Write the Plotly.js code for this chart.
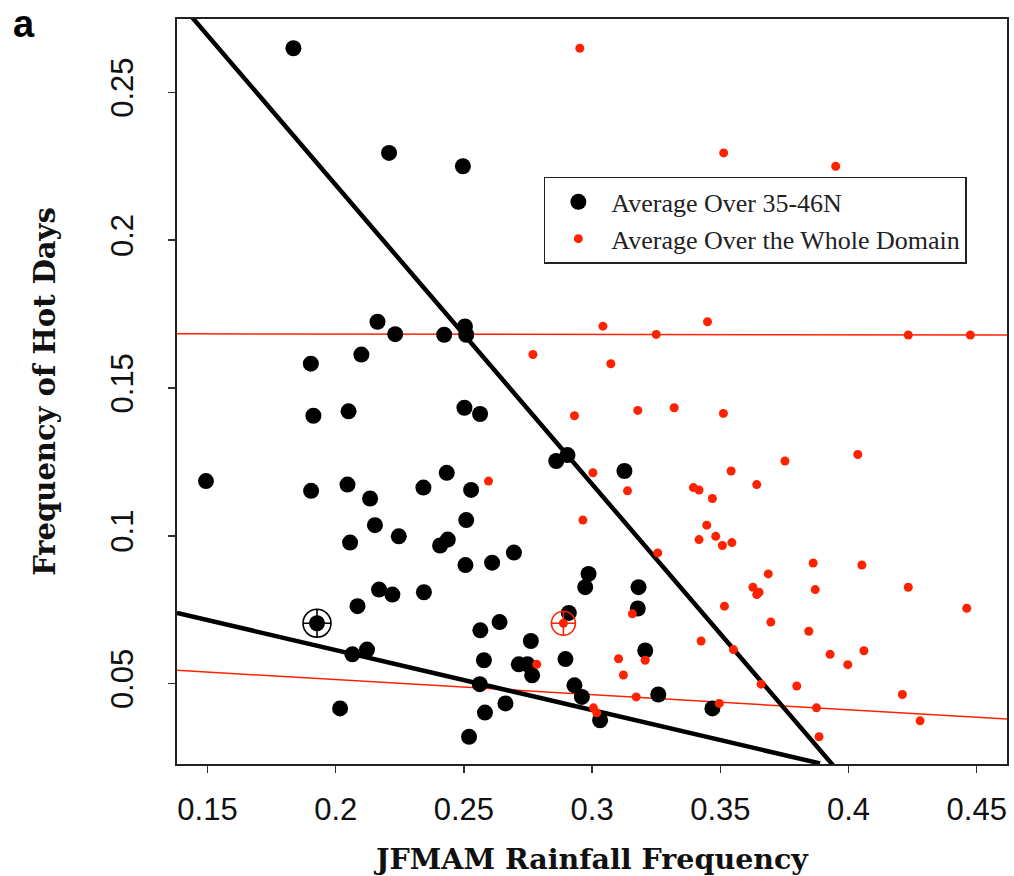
<!DOCTYPE html>
<html>
<head>
<meta charset="utf-8">
<script src="https://cdn.plot.ly/plotly-3.0.1.min.js"></script>
<style>
  html, body { margin: 0; padding: 0; background: #fff; }
  #chart { width: 1014px; height: 876px; }
</style>
</head>
<body>
<div id="chart"></div>
<script>
// ---- Data ----
const blackX = [0.1835,0.2208,0.2496,0.2163,0.2232,0.2423,0.2504,0.2509,0.2100,0.1903,
                0.1913,0.2050,0.2502,0.2563,0.1494,0.1904,0.2046,0.2134,0.2342,0.2433,
                0.2528,0.2860,0.2904,0.2153,0.2056,0.2246,0.2407,0.2437,0.2509,0.2506,
                0.2610,0.2695,0.2169,0.2221,0.2344,0.2085,0.1927,0.2065,0.2122,0.2017,
                0.2564,0.2639,0.2761,0.2578,0.2714,0.2748,0.2766,0.2896,0.2909,0.2562,
                0.2582,0.2662,0.2520,0.2931,0.2960,0.2986,0.2973,0.3126,0.3181,0.3178,
                0.3207,0.3258,0.3469,0.3031];
const blackY = [0.2649,0.2295,0.2250,0.1724,0.1682,0.1680,0.1708,0.1680,0.1613,0.1582,
                0.1406,0.1421,0.1433,0.1412,0.1185,0.1152,0.1173,0.1126,0.1163,0.1213,
                0.1155,0.1253,0.1273,0.1036,0.0977,0.0998,0.0967,0.0987,0.1053,0.0901,
                0.0909,0.0943,0.0818,0.0801,0.0809,0.0762,0.0704,0.0599,0.0615,0.0416,
                0.0680,0.0708,0.0644,0.0579,0.0565,0.0565,0.0528,0.0583,0.0739,0.0498,
                0.0402,0.0433,0.0320,0.0494,0.0455,0.0871,0.0826,0.1219,0.0826,0.0754,
                0.0612,0.0463,0.0416,0.0376];

const redX = [0.2952,0.2769,0.3513,0.3950,0.3042,0.3250,0.3450,0.4233,0.4475,0.3073,
              0.2931,0.2596,0.2964,0.2784,0.3003,0.2888,0.3178,0.3320,0.3512,0.4036,
              0.3752,0.3542,0.3138,0.3395,0.3417,0.3469,0.3642,0.3447,0.3482,0.3417,
              0.3508,0.3545,0.3256,0.3862,0.4052,0.3687,0.3627,0.3651,0.3642,0.3870,
              0.4233,0.4461,0.3516,0.3157,0.3697,0.3845,0.3425,0.3551,0.3207,0.3103,
              0.3928,0.4060,0.3997,0.3122,0.3659,0.3798,0.3172,0.4210,0.3496,0.3875,
              0.3005,0.3018,0.4279,0.3885];
const redY = [0.2649,0.1613,0.2295,0.2250,0.1709,0.1681,0.1724,0.1679,0.1679,0.1582,
              0.1406,0.1185,0.1053,0.0565,0.1213,0.0704,0.1424,0.1433,0.1414,0.1275,
              0.1253,0.1219,0.1152,0.1163,0.1155,0.1126,0.1173,0.1036,0.0998,0.0987,
              0.0967,0.0977,0.0942,0.0908,0.0901,0.0871,0.0826,0.0809,0.0801,0.0818,
              0.0826,0.0755,0.0762,0.0736,0.0708,0.0677,0.0644,0.0615,0.0579,0.0584,
              0.0599,0.0611,0.0564,0.0529,0.0498,0.0492,0.0455,0.0463,0.0433,0.0418,
              0.0418,0.0401,0.0374,0.0320];

// highlighted year (target markers)
const blackTargetX = [0.1927];
const blackTargetY = [0.0704];
const redTargetX = [0.2888];
const redTargetY = [0.0704];

// fitted lines (end points)
const blackFitSteepX = [0.140, 0.395];
const blackFitSteepY = [0.2794, 0.0213];
const blackFitFlatX = [0.1381, 0.3889];
const blackFitFlatY = [0.0739, 0.0230];
const redFitFlatX = [0.1381, 0.4618];
const redFitFlatY = [0.1683, 0.1679];
const redFitSlopeX = [0.1381, 0.4618];
const redFitSlopeY = [0.0545, 0.0380];

const xTickVals = [0.15, 0.2, 0.25, 0.3, 0.35, 0.4, 0.45];
const xTickText = ['0.15', '0.2', '0.25', '0.3', '0.35', '0.4', '0.45'];
const yTickVals = [0.05, 0.1, 0.15, 0.2, 0.25];
const yTickText = ['0.05', '0.1', '0.15', '0.2', '0.25'];

const seriesNames = ['Average Over 35-46N', 'Average Over the Whole Domain'];

// ---- Styles ----
const RED = '#ff2200';
const BLACK = '#000000';

const traces = [
  { x: redFitFlatX, y: redFitFlatY, mode: 'lines', line: {color: RED, width: 1.5}, showlegend: false, hoverinfo: 'skip' },
  { x: redFitSlopeX, y: redFitSlopeY, mode: 'lines', line: {color: RED, width: 1.5}, showlegend: false, hoverinfo: 'skip' },
  { x: blackFitSteepX, y: blackFitSteepY, mode: 'lines', line: {color: BLACK, width: 4.5}, showlegend: false, hoverinfo: 'skip' },
  { x: blackFitFlatX, y: blackFitFlatY, mode: 'lines', line: {color: BLACK, width: 4.5}, showlegend: false, hoverinfo: 'skip' },
  { x: blackX, y: blackY, mode: 'markers', name: seriesNames[0],
    marker: {color: BLACK, size: 16, line: {width: 0}} },
  { x: blackTargetX, y: blackTargetY, mode: 'markers', showlegend: false,
    marker: {symbol: 'circle-cross-open', color: BLACK, size: 28, line: {color: BLACK, width: 1.6}} },
  { x: redX, y: redY, mode: 'markers', name: seriesNames[1],
    marker: {color: RED, size: 9, line: {width: 0}} },
  { x: redTargetX, y: redTargetY, mode: 'markers', showlegend: false,
    marker: {symbol: 'circle-cross-open', color: RED, size: 24, line: {color: RED, width: 1.6}} }
];

const layout = {
  width: 1014,
  height: 876,
  margin: {l: 177, r: 7, t: 19, b: 112, pad: 0},
  paper_bgcolor: '#ffffff',
  plot_bgcolor: '#ffffff',
  showlegend: true,
  legend: {
    x: 0.442, y: 0.788, xanchor: 'left', yanchor: 'top',
    bgcolor: '#ffffff', bordercolor: '#222222', borderwidth: 1.5,
    font: {family: '"Liberation Serif", "Times New Roman", serif', size: 26, color: '#222222'},
    itemwidth: 56, tracegroupgap: 0
  },
  xaxis: {
    range: [0.1381, 0.4618],
    tickvals: xTickVals, ticktext: xTickText,
    ticks: 'outside', ticklen: 7, tickwidth: 1.5, tickcolor: '#333333',
    ticklabelstandoff: 10,
    tickfont: {family: '"Liberation Sans", Arial, sans-serif', size: 31, color: '#111111'},
    showline: true, mirror: true, linecolor: '#222222', linewidth: 2,
    showgrid: false, zeroline: false,
    title: {text: 'JFMAM Rainfall Frequency', standoff: 30,
            font: {family: '"DejaVu Serif", serif', size: 28.5, color: '#111111', weight: 'bold'}}
  },
  yaxis: {
    range: [0.0228, 0.2748],
    tickvals: yTickVals, ticktext: yTickText,
    tickangle: -90,
    ticks: 'outside', ticklen: 7, tickwidth: 1.5, tickcolor: '#333333',
    ticklabelstandoff: 23,
    tickfont: {family: '"Liberation Sans", Arial, sans-serif', size: 31, color: '#111111'},
    showline: true, mirror: true, linecolor: '#222222', linewidth: 2,
    showgrid: false, zeroline: false,
    title: {text: 'Frequency of Hot Days', standoff: 40,
            font: {family: '"DejaVu Serif", serif', size: 29, color: '#111111', weight: 'bold'}}
  },
  annotations: [
    {text: 'a', xref: 'paper', yref: 'paper', x: -0.1994, y: 1.0242, xanchor: 'left', yanchor: 'top',
     showarrow: false, font: {family: '"Liberation Sans", Arial, sans-serif', size: 38, color: '#000000', weight: 'bold'}}
  ]
};

Plotly.newPlot('chart', traces, layout, {displayModeBar: false, staticPlot: true});
</script>
</body>
</html>
